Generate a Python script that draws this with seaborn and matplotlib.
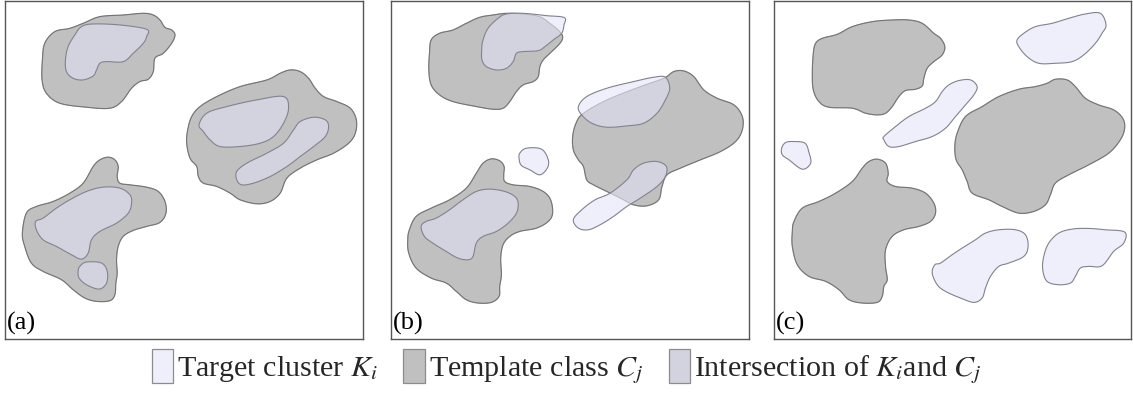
import numpy as np
import matplotlib
matplotlib.use("Agg")
import matplotlib.pyplot as plt
from matplotlib.patches import Polygon, Patch
import seaborn as sns

# ---- blob outlines (control points, y grows downward) ----
# panel (a)
tmpl_a1 = [(165, 95), (210, 85), (250, 70), (300, 50), (370, 45), (430, 40), (460, 45), (480, 60),
           (495, 82), (515, 90), (525, 105), (515, 130), (490, 160), (465, 175), (460, 215), (445, 238),
           (420, 245), (395, 265), (365, 305), (330, 325), (260, 322), (180, 310), (140, 280), (127, 240),
           (128, 180), (135, 130)]
tmpl_a2 = [(600, 320), (650, 290), (720, 260), (800, 240), (840, 220), (870, 210), (900, 215), (925, 235),
           (945, 265), (970, 290), (1010, 305), (1050, 325), (1068, 360), (1065, 400), (1045, 430),
           (1000, 460), (950, 480), (900, 505), (860, 535), (840, 580), (810, 605), (770, 612), (720, 600),
           (690, 580), (650, 560), (610, 550), (595, 530), (590, 500), (570, 475), (560, 430), (563, 390),
           (575, 350)]
tmpl_a3 = [(80, 640), (110, 620), (160, 605), (210, 580), (250, 550), (280, 500), (300, 480), (325, 472),
           (345, 480), (355, 500), (352, 530), (360, 550), (390, 555), (440, 562), (475, 575), (495, 605),
           (498, 640), (480, 668), (440, 680), (400, 692), (370, 710), (355, 740), (350, 780), (352, 820),
           (348, 850), (345, 885), (330, 903), (290, 905), (255, 895), (220, 870), (185, 840), (130, 815),
           (95, 790), (75, 740), (68, 700)]
targ_a1 = [(225, 105), (245, 80), (280, 72), (360, 75), (440, 88), (440, 110), (430, 130), (400, 160),
           (370, 185), (320, 185), (300, 190), (290, 210), (280, 228), (250, 240), (220, 235), (200, 215),
           (197, 180), (205, 140)]
targ_a2 = [(597, 375), (620, 340), (680, 320), (770, 300), (850, 290), (865, 325), (850, 370), (820, 410),
           (780, 430), (720, 440), (660, 440), (630, 420), (610, 395)]
targ_a3 = [(710, 515), (740, 490), (800, 460), (850, 430), (880, 390), (900, 365), (940, 352), (975, 360),
           (985, 380), (975, 410), (940, 440), (900, 470), (860, 500), (810, 530), (760, 550), (725, 555),
           (710, 540)]
targ_a4 = [(108, 665), (130, 655), (170, 625), (210, 600), (260, 575), (310, 562), (360, 565), (390, 585),
           (395, 610), (385, 640), (350, 670), (300, 695), (275, 720), (265, 760), (245, 778), (215, 765),
           (170, 740), (130, 720), (110, 690)]
targ_a5 = [(240, 800), (260, 787), (305, 790), (322, 815), (320, 850), (298, 868), (260, 855), (238, 835),
           (235, 815)]

# panel (b)
tmpl_b1 = [(175, 120), (200, 100), (240, 90), (280, 70), (320, 52), (360, 45), (400, 40), (450, 42),
           (500, 50), (530, 70), (555, 90), (568, 110), (560, 130), (530, 160), (510, 180), (500, 200),
           (495, 230), (480, 245), (450, 255), (430, 275), (410, 305), (390, 325), (360, 328), (310, 320),
           (240, 305), (200, 285), (175, 255), (168, 210), (170, 160)]
tmpl_b2 = [(630, 340), (700, 300), (800, 260), (870, 235), (900, 215), (930, 213), (960, 230), (990, 270),
           (1030, 295), (1080, 315), (1105, 350), (1105, 390), (1085, 425), (1040, 455), (980, 480),
           (920, 505), (880, 525), (865, 560), (855, 600), (820, 618), (780, 615), (740, 595), (700, 575),
           (660, 555), (640, 540), (630, 500), (615, 480), (600, 450), (598, 410), (608, 370)]
tmpl_b3 = [(110, 690), (130, 650), (175, 625), (230, 600), (280, 565), (310, 520), (330, 490), (355, 477),
           (380, 483), (393, 500), (392, 525), (395, 545), (420, 555), (470, 560), (510, 575), (532, 600),
           (538, 640), (525, 665), (490, 685), (440, 695), (410, 710), (390, 735), (383, 775), (385, 825),
           (380, 860), (378, 890), (355, 908), (315, 910), (280, 900), (250, 875), (220, 850), (175, 835),
           (130, 805), (108, 760), (105, 720)]
targ_b1 = [(330, 120), (345, 85), (375, 55), (400, 42), (450, 40), (520, 47), (573, 53), (572, 75),
           (565, 100), (540, 120), (515, 140), (495, 152), (450, 155), (430, 160), (420, 185), (400, 205),
           (370, 210), (340, 200), (327, 180), (326, 150)]
targ_b2 = [(615, 320), (640, 290), (700, 265), (780, 245), (840, 232), (875, 232), (888, 265), (875, 300),
           (850, 340), (810, 370), (760, 378), (700, 382), (655, 370), (625, 345)]
targ_b3 = [(600, 660), (625, 630), (665, 600), (710, 580), (760, 540), (780, 510), (810, 490), (850, 485),
           (878, 500), (875, 530), (850, 560), (800, 595), (760, 620), (720, 650), (680, 675), (645, 690),
           (615, 685)]
targ_b4 = [(440, 460), (460, 445), (505, 448), (525, 480), (522, 505), (500, 525), (470, 510), (445, 497),
           (438, 478)]
targ_b5 = [(145, 680), (160, 665), (190, 655), (230, 630), (270, 600), (310, 575), (350, 568), (395, 575),
           (425, 590), (435, 610), (430, 640), (405, 670), (370, 695), (330, 710), (310, 730), (300, 770),
           (285, 780), (255, 775), (220, 755), (180, 730), (155, 710)]

# panel (c)
tmpl_c1 = [(190, 130), (210, 115), (255, 103), (300, 80), (360, 65), (420, 60), (470, 60), (510, 70),
           (545, 100), (565, 115), (578, 140), (570, 165), (545, 185), (525, 205), (515, 235), (510, 258),
           (490, 268), (460, 272), (440, 290), (420, 320), (400, 340), (375, 345), (340, 340), (300, 325),
           (230, 322), (200, 305), (183, 270), (180, 220), (183, 160)]
tmpl_c2 = [(640, 350), (690, 320), (740, 290), (800, 268), (850, 260), (885, 250), (910, 238), (945, 240),
           (970, 260), (1000, 295), (1040, 315), (1085, 330), (1112, 355), (1118, 385), (1105, 420),
           (1070, 460), (1010, 495), (950, 525), (910, 550), (895, 585), (880, 615), (845, 635), (800, 640),
           (750, 620), (710, 600), (660, 580), (645, 545), (630, 510), (612, 480), (608, 440), (615, 400)]
tmpl_c3 = [(125, 665), (150, 625), (200, 605), (250, 580), (300, 545), (330, 505), (350, 485), (375, 478),
           (400, 490), (408, 520), (405, 545), (430, 560), (480, 565), (520, 580), (545, 610), (550, 640),
           (535, 665), (500, 680), (455, 690), (420, 710), (400, 750), (400, 800), (405, 840), (395, 860),
           (390, 890), (375, 908), (330, 910), (290, 900), (260, 870), (220, 845), (170, 830), (135, 795),
           (120, 740), (120, 695)]
targ_c1 = [(795, 120), (815, 100), (850, 80), (900, 70), (950, 55), (1000, 42), (1045, 40), (1062, 75),
           (1050, 100), (1030, 130), (995, 165), (960, 185), (910, 190), (860, 190), (825, 170), (800, 140)]
targ_c2 = [(395, 410), (430, 380), (470, 350), (520, 325), (550, 305), (570, 275), (590, 255), (620, 242),
           (655, 240), (675, 260), (665, 285), (640, 315), (610, 350), (580, 385), (540, 410), (490, 425),
           (440, 440), (410, 440), (395, 420)]
targ_c3 = [(88, 445), (100, 428), (125, 425), (158, 430), (170, 458), (175, 490), (150, 508), (110, 480),
           (90, 465)]
targ_c4 = [(540, 820), (548, 795), (565, 790), (600, 765), (630, 745), (670, 720), (700, 700), (740, 690),
           (790, 690), (820, 705), (828, 740), (815, 770), (770, 790), (740, 800), (715, 830), (700, 865),
           (690, 895), (665, 908), (625, 895), (580, 875), (555, 855)]
targ_c5 = [(875, 770), (890, 730), (920, 700), (960, 688), (1010, 686), (1060, 690), (1118, 697),
           (1115, 730), (1085, 755), (1050, 798), (1010, 800), (985, 805), (970, 830), (955, 850),
           (920, 855), (885, 845), (872, 810)]

panel_labels = ["(a)", "(b)", "(c)"]
templates = [[tmpl_a1, tmpl_a2, tmpl_a3], [tmpl_b1, tmpl_b2, tmpl_b3], [tmpl_c1, tmpl_c2, tmpl_c3]]
targets = [[targ_a1, targ_a2, targ_a3, targ_a4, targ_a5],
           [targ_b1, targ_b2, targ_b3, targ_b4, targ_b5],
           [targ_c1, targ_c2, targ_c3, targ_c4, targ_c5]]
frame_x = [(16, 1088), (55, 1125), (65, 1137)]
frame_y = (1018, 3)

legend_labels = [r"Target cluster $K_i$", r"Template class $C_j$", r"Intersection of $K_i$and $C_j$"]

# ---- styling ----
sns.set_theme(style="white")
plt.rcParams["font.family"] = ["Liberation Serif", "DejaVu Serif"]
plt.rcParams["mathtext.fontset"] = "stix"

col_target = "#efeffb"
col_template = "#c0c0c0"
col_inter = "#d3d3df"
col_edge = "#747474"
col_edge_t = "#82828e"


def closed_spline(pts, n=24):
    """Closed Catmull-Rom curve through the control points."""
    P = np.asarray(pts, float)
    N = len(P)
    t = np.linspace(0, 1, n, endpoint=False)[:, None]
    segs = []
    for i in range(N):
        p0, p1, p2, p3 = P[i - 1], P[i], P[(i + 1) % N], P[(i + 2) % N]
        seg = 0.5 * (2 * p1 + (-p0 + p2) * t + (2 * p0 - 5 * p1 + 4 * p2 - p3) * t ** 2
                     + (-p0 + 3 * p1 - 3 * p2 + p3) * t ** 3)
        segs.append(seg)
    return np.vstack(segs)


fig = plt.figure(figsize=(11.33, 3.98), dpi=100)
W, H = 1133, 398
boxes = [(5, 363), (391, 749), (774, 1131)]
top, bottom = 1, 339

for k, (x0, x1) in enumerate(boxes):
    ax = fig.add_axes([x0 / W, (H - bottom) / H, (x1 - x0) / W, (bottom - top) / H])
    ax.set_xlim(*frame_x[k])
    ax.set_ylim(*frame_y)
    ax.set_xticks([])
    ax.set_yticks([])
    for s in ax.spines.values():
        s.set_color("#555555")
        s.set_linewidth(1.0)

    tpatches = []
    for blob in templates[k]:
        xy = closed_spline(blob)
        p = Polygon(xy, closed=True, facecolor=col_template, edgecolor=col_edge, lw=0.8, zorder=1)
        ax.add_patch(p)
        tpatches.append(p)

    for blob in targets[k]:
        xy = closed_spline(blob)
        ax.add_patch(Polygon(xy, closed=True, facecolor=col_target, edgecolor="none", zorder=2))
        for tp in tpatches:
            ip = Polygon(xy, closed=True, facecolor=col_inter, edgecolor="none", zorder=3)
            ax.add_patch(ip)
            ip.set_clip_path(tp)

    # template borders seen faintly through the overlapping clusters
    for blob in templates[k]:
        xy = closed_spline(blob)
        ax.add_patch(Polygon(xy, closed=True, facecolor="none", edgecolor=col_edge, lw=0.75,
                             alpha=0.35, zorder=4))
    for blob in targets[k]:
        xy = closed_spline(blob)
        ax.add_patch(Polygon(xy, closed=True, facecolor="none", edgecolor=col_edge_t, lw=0.8, zorder=5))

    ax.text(0.004, 0.012, panel_labels[k], transform=ax.transAxes, ha="left", va="bottom",
            fontsize=19, color="black")

handles = [Patch(facecolor=c, edgecolor="#8c8c8c", lw=0.9) for c in (col_target, col_template, col_inter)]
fig.legend(handles, legend_labels, loc="lower center", bbox_to_anchor=(0.5, 0.0), ncol=3,
           frameon=False, fontsize=21.6, handlelength=0.72, handleheight=1.35, handletextpad=0.12,
           columnspacing=0.85, borderaxespad=0.0)

fig.savefig("out.png", dpi=100)
